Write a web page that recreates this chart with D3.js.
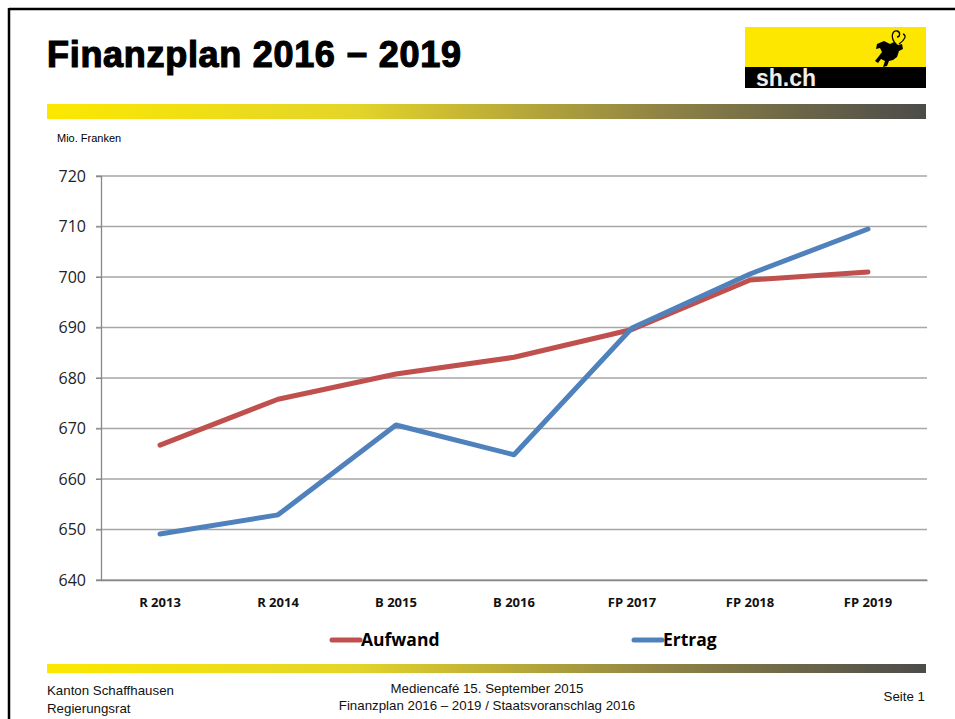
<!DOCTYPE html>
<html>
<head>
<meta charset="utf-8">
<script src="https://cdn.jsdelivr.net/npm/d3@7"></script>
<style>
  body { margin: 0; background: #fff; }
  svg { display: block; }
</style>
</head>
<body>
<div id="chart"></div>
<script>
// chart data
const categories = ["R 2013", "R 2014", "B 2015", "B 2016", "FP 2017", "FP 2018", "FP 2019"];
const aufwand = [666.7, 675.8, 680.8, 684.1, 689.6, 699.4, 701.0];
const ertrag = [649.1, 652.9, 670.7, 664.8, 689.9, 700.6, 709.5];
const yTicks = [640, 650, 660, 670, 680, 690, 700, 710, 720];
const seriesNames = ["Aufwand", "Ertrag"];
const seriesColors = ["#c0504d", "#4f81bd"];

const width = 955, height = 719;
const svg = d3.select("#chart").append("svg")
  .attr("width", width)
  .attr("height", height);

const defs = svg.append("defs");
const grad = defs.append("linearGradient").attr("id", "bar");
grad.append("stop").attr("offset", "0%").attr("stop-color", "#fbe800");
grad.append("stop").attr("offset", "35%").attr("stop-color", "#e4d42a");
grad.append("stop").attr("offset", "70%").attr("stop-color", "#8f8345");
grad.append("stop").attr("offset", "100%").attr("stop-color", "#4b4b4b");

// slide frame
svg.append("line").attr("x1", 9).attr("x2", width).attr("y1", 9).attr("y2", 9)
  .attr("stroke", "#000").attr("stroke-width", 2.5);
svg.append("line").attr("x1", 9).attr("x2", 9).attr("y1", 8).attr("y2", height)
  .attr("stroke", "#000").attr("stroke-width", 2.5);

// title
svg.append("text")
  .attr("x", 47).attr("y", 67)
  .attr("font-family", "Liberation Sans, Arial, sans-serif")
  .attr("font-weight", "bold")
  .attr("font-size", 36)
  .attr("letter-spacing", 0.7)
  .attr("stroke", "#000").attr("stroke-width", 1.2)
  .text("Finanzplan 2016 \u2212 2019");

// logo
const logo = svg.append("g");
logo.append("rect").attr("x", 745).attr("y", 27).attr("width", 181).attr("height", 41).attr("fill", "#fde600");
logo.append("rect").attr("x", 745).attr("y", 67).attr("width", 181).attr("height", 21).attr("fill", "#000");
logo.append("text").attr("x", 756).attr("y", 86)
  .attr("font-family", "Liberation Sans, Arial, sans-serif")
  .attr("font-weight", "bold").attr("font-size", 23)
  .attr("fill", "#eee").text("sh.ch");
// the ram (rough outline)
logo.append("path")
  .attr("d", "M877,44 L884,41 L890,44 L894,42 L898,45 L902,44 L903,49 L899,51 L897,57 L893,60 L889,61 L887,66 L883,67 L885,61 L881,59 L878,63 L875,61 L879,56 L882,52 L880,48 L876,49 Z")
  .attr("fill", "#000");
logo.append("path")
  .attr("d", "M896,44 C890,38 892,30 897,31 C901,32 900,37 897,37 M899,44 C905,40 907,35 903,34")
  .attr("fill", "none").attr("stroke", "#000").attr("stroke-width", 1.3);

// gradient bars
svg.append("rect").attr("x", 47).attr("y", 104).attr("width", 879).attr("height", 15).attr("fill", "url(#bar)");
svg.append("rect").attr("x", 47).attr("y", 664).attr("width", 879).attr("height", 9).attr("fill", "url(#bar)");

// unit label
svg.append("text").attr("x", 57).attr("y", 142)
  .attr("font-family", "Liberation Sans, Arial, sans-serif").attr("font-size", 11)
  .text("Mio. Franken");

// scales
const x = d3.scaleBand().domain(categories).range([101, 927]);
const y = d3.scaleLinear().domain([640, 720]).range([580, 176]);

// grid
svg.append("g")
  .selectAll("line").data(yTicks).join("line")
  .attr("x1", 96).attr("x2", 927)
  .attr("y1", d => y(d)).attr("y2", d => y(d))
  .attr("stroke", "#a6a6a6").attr("stroke-width", 1.3);

// y axis
const yAxis = svg.append("g")
  .attr("transform", "translate(101,0)")
  .call(d3.axisLeft(y).tickValues(yTicks).tickSize(5).tickPadding(10));
yAxis.select(".domain").attr("stroke", "#888").attr("stroke-width", 1.3);
yAxis.selectAll(".tick line").attr("stroke", "#888");
yAxis.selectAll("text")
  .attr("font-family", "Open Sans, Liberation Sans, sans-serif")
  .attr("font-size", 16).attr("fill", "#222");

// x axis
const xAxis = svg.append("g")
  .attr("transform", "translate(0,580)")
  .call(d3.axisBottom(x).tickSize(0).tickPadding(18));
xAxis.select(".domain").attr("stroke", "#888").attr("stroke-width", 1.3);
xAxis.selectAll("text")
  .attr("font-family", "Open Sans, Liberation Sans, sans-serif")
  .attr("font-weight", "bold")
  .attr("font-size", 13).attr("fill", "#111");

// lines
const line = d3.line()
  .x((d, i) => x(categories[i]) + x.bandwidth() / 2)
  .y(d => y(d));

[aufwand, ertrag].forEach((s, i) => {
  svg.append("path")
    .datum(s)
    .attr("fill", "none")
    .attr("stroke", seriesColors[i])
    .attr("stroke-width", 5)
    .attr("stroke-linecap", "round")
    .attr("stroke-linejoin", "round")
    .attr("d", line);
});

// legend
const legendX = [332, 634];
seriesNames.forEach((name, i) => {
  const g = svg.append("g").attr("transform", "translate(" + legendX[i] + ",640)");
  g.append("line").attr("x1", 0).attr("x2", 28).attr("y1", 0).attr("y2", 0)
    .attr("stroke", seriesColors[i]).attr("stroke-width", 5).attr("stroke-linecap", "round");
  g.append("text").attr("x", 29).attr("y", 6)
    .attr("font-family", "Open Sans, Liberation Sans, sans-serif")
    .attr("font-weight", "bold").attr("font-size", 17.5)
    .text(name);
});

// footer
const foot = svg.append("g")
  .attr("font-family", "Liberation Sans, Arial, sans-serif")
  .attr("font-size", 13.3).attr("fill", "#111");
foot.append("text").attr("x", 47).attr("y", 695).text("Kanton Schaffhausen");
foot.append("text").attr("x", 47).attr("y", 713).text("Regierungsrat");
foot.append("text").attr("x", 487).attr("y", 693).attr("text-anchor", "middle").text("Mediencafé 15. September 2015");
foot.append("text").attr("x", 487).attr("y", 710).attr("text-anchor", "middle").text("Finanzplan 2016 \u2013 2019 / Staatsvoranschlag 2016");
foot.append("text").attr("x", 925).attr("y", 701).attr("text-anchor", "end").text("Seite 1");
</script>
</body>
</html>
